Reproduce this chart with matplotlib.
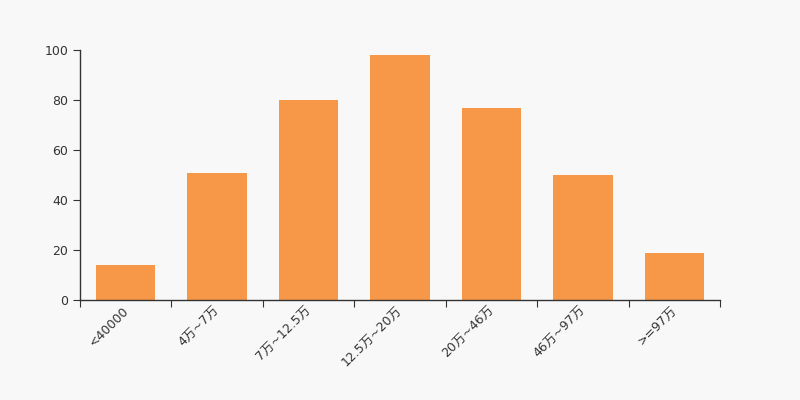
import matplotlib.pyplot as plt
import matplotlib.transforms as mtransforms
import numpy as np

plt.rcParams['font.family'] = ['DejaVu Sans', 'Noto Sans CJK SC']

# data
categories = ['<40000', '4万~7万', '7万~12.5万', '12.5万~20万', '20万~46万', '46万~97万', '>=97万']
values = [14, 51, 80, 98, 77, 50, 19]

bg = '#f8f8f8'
fig = plt.figure(figsize=(8, 4), dpi=100, facecolor=bg)
ax = fig.add_axes([0.1, 0.25, 0.8, 0.625])
ax.set_facecolor(bg)

x = np.arange(len(categories))
ax.bar(x, values, width=0.65, color='#f79848', zorder=2)

ax.set_xlim(-0.5, len(categories) - 0.5)
ax.set_ylim(0, 100)
ax.set_yticks([0, 20, 40, 60, 80, 100])

# x ticks sit between categories, labels centred on bars
ax.set_xticks(np.arange(-0.5, len(categories) + 0.5, 1))
ax.set_xticklabels([])
ax.set_xticks(x, minor=True)
ax.set_xticklabels(categories, minor=True, rotation=45, ha='right', rotation_mode='anchor')
ax.tick_params(axis='x', which='minor', length=0, pad=3, labelsize=9, labelcolor='#333333')
ax.tick_params(axis='x', which='major', length=5, color='#333333')
ax.tick_params(axis='y', length=5, labelsize=9, labelcolor='#333333', color='#333333')

# nudge labels a little to the left
shift = mtransforms.ScaledTranslation(-4 / 100, 0, fig.dpi_scale_trans)
for lbl in ax.get_xticklabels(minor=True):
    lbl.set_transform(lbl.get_transform() + shift)

for s in ['top', 'right']:
    ax.spines[s].set_visible(False)
for s in ['left', 'bottom']:
    ax.spines[s].set_color('#333333')
    ax.spines[s].set_linewidth(1)

fig.savefig('out.png', dpi=100, facecolor=bg)
